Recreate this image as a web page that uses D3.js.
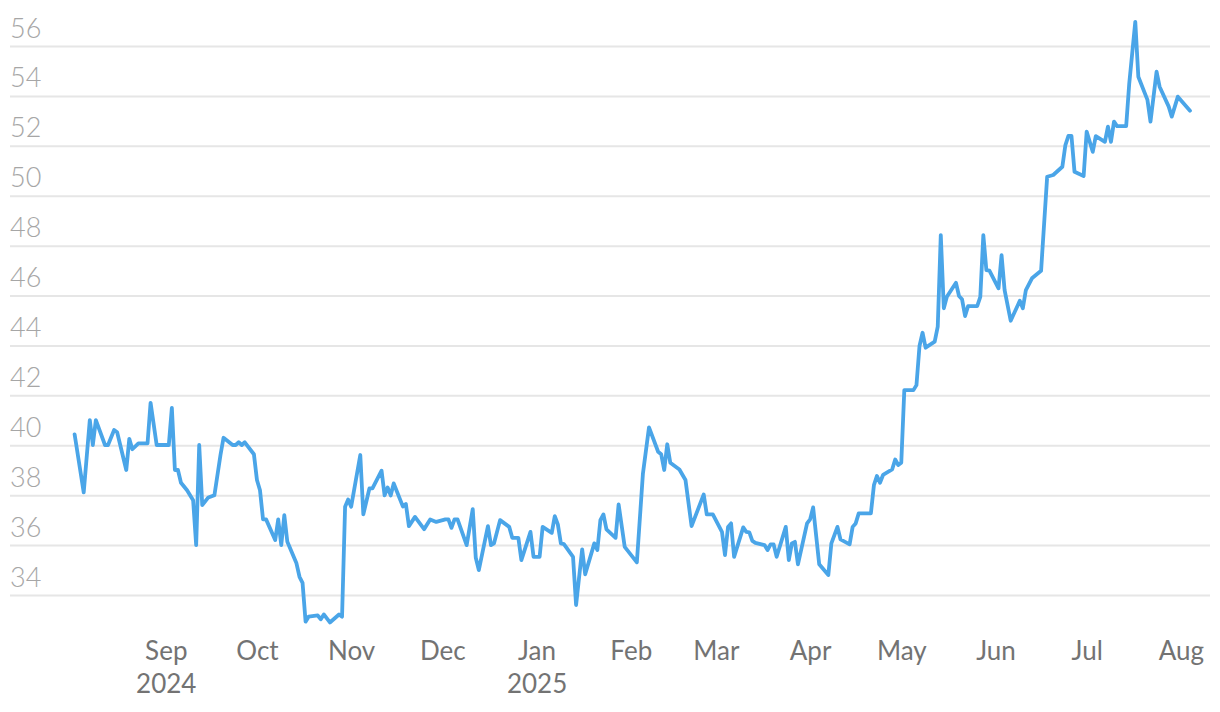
<!DOCTYPE html>
<html lang="en">
<head>
<meta charset="UTF-8">
<title>Price chart</title>
<script src="https://d3js.org/d3.v7.min.js"></script>
<style>
  body { margin: 0; background: #fff; }
  .grid line { stroke: #e6e6e6; stroke-width: 2px; }
  .grid text { fill: #a6a6a6; font-family: Lato, sans-serif; font-weight: 300; font-size: 27px; }
  .xaxis text { fill: #737373; font-family: Lato, sans-serif; font-weight: 400; font-size: 26px; }
</style>
</head>
<body>
<div id="chart"></div>
<script>
// data
var dates = [
  "2024-08-02","2024-08-05","2024-08-07","2024-08-08","2024-08-09","2024-08-12","2024-08-13","2024-08-15","2024-08-16","2024-08-19",
  "2024-08-20","2024-08-21","2024-08-23","2024-08-26","2024-08-27","2024-08-29","2024-09-02","2024-09-03","2024-09-04","2024-09-05",
  "2024-09-06","2024-09-08","2024-09-10","2024-09-11","2024-09-12","2024-09-13","2024-09-15","2024-09-17","2024-09-19","2024-09-20",
  "2024-09-23","2024-09-24","2024-09-25","2024-09-26","2024-09-27","2024-09-30","2024-10-01","2024-10-02","2024-10-03","2024-10-04",
  "2024-10-07","2024-10-08","2024-10-09","2024-10-10","2024-10-11","2024-10-14","2024-10-15","2024-10-16","2024-10-17","2024-10-18",
  "2024-10-21","2024-10-22","2024-10-23","2024-10-25","2024-10-28","2024-10-29","2024-10-30","2024-10-31","2024-11-01","2024-11-04",
  "2024-11-05","2024-11-07","2024-11-08","2024-11-11","2024-11-12","2024-11-13","2024-11-14","2024-11-15","2024-11-18","2024-11-19",
  "2024-11-20","2024-11-22","2024-11-25","2024-11-27","2024-11-29","2024-12-02","2024-12-03","2024-12-04","2024-12-05","2024-12-06",
  "2024-12-09","2024-12-11","2024-12-12","2024-12-13","2024-12-16","2024-12-17","2024-12-18","2024-12-20","2024-12-23","2024-12-24",
  "2024-12-26","2024-12-27","2024-12-30","2024-12-31","2025-01-02","2025-01-03","2025-01-06","2025-01-07","2025-01-08","2025-01-09",
  "2025-01-10","2025-01-13","2025-01-14","2025-01-16","2025-01-17","2025-01-20","2025-01-21","2025-01-22","2025-01-23","2025-01-24",
  "2025-01-27","2025-01-28","2025-01-30","2025-02-03","2025-02-05","2025-02-07","2025-02-10","2025-02-11","2025-02-12","2025-02-13",
  "2025-02-14","2025-02-17","2025-02-19","2025-02-21","2025-02-25","2025-02-26","2025-02-28","2025-03-03","2025-03-04","2025-03-05",
  "2025-03-06","2025-03-07","2025-03-10","2025-03-11","2025-03-12","2025-03-13","2025-03-14","2025-03-17","2025-03-18","2025-03-19",
  "2025-03-20","2025-03-21","2025-03-24","2025-03-25","2025-03-26","2025-03-27","2025-03-28","2025-03-31","2025-04-01","2025-04-02",
  "2025-04-04","2025-04-07","2025-04-08","2025-04-10","2025-04-11","2025-04-14","2025-04-15","2025-04-16","2025-04-17","2025-04-21",
  "2025-04-22","2025-04-23","2025-04-24","2025-04-25","2025-04-28","2025-04-29","2025-04-30","2025-05-01","2025-05-02","2025-05-05",
  "2025-05-06","2025-05-07","2025-05-08","2025-05-09","2025-05-12","2025-05-13","2025-05-14","2025-05-15","2025-05-16","2025-05-19",
  "2025-05-20","2025-05-21","2025-05-22","2025-05-23","2025-05-26","2025-05-27","2025-05-28","2025-05-29","2025-05-30","2025-06-02",
  "2025-06-03","2025-06-04","2025-06-06","2025-06-09","2025-06-10","2025-06-11","2025-06-13","2025-06-16","2025-06-18","2025-06-20",
  "2025-06-23","2025-06-24","2025-06-25","2025-06-26","2025-06-27","2025-06-30","2025-07-01","2025-07-03","2025-07-04","2025-07-07",
  "2025-07-08","2025-07-09","2025-07-10","2025-07-11","2025-07-14","2025-07-15","2025-07-17","2025-07-18","2025-07-21","2025-07-22",
  "2025-07-24","2025-07-25","2025-07-28","2025-07-29","2025-07-31","2025-08-04"
];
var prices = [
  40.44,38.11,41.01,40.01,41.01,40.01,40.01,40.61,40.52,39.01,
  40.26,39.84,40.08,40.08,41.70,40.01,40.01,41.50,39.01,39.01,
  38.50,38.20,37.80,36.00,40.01,37.60,37.91,38.00,39.61,40.30,
  40.01,40.01,40.12,40.01,40.12,39.64,38.61,38.20,37.03,37.03,
  36.20,37.03,36.00,37.20,36.13,35.27,34.73,34.49,32.93,33.13,
  33.18,33.03,33.22,32.90,33.22,33.13,37.54,37.83,37.54,39.61,
  37.23,38.27,38.27,38.98,37.99,38.31,37.99,38.47,37.55,37.65,
  36.76,37.13,36.64,37.03,36.93,37.03,37.03,36.69,37.03,37.03,
  36.00,37.44,35.49,35.00,36.76,36.00,36.07,37.00,36.73,36.29,
  36.29,35.40,36.53,35.53,35.53,36.73,36.49,37.16,36.83,36.07,
  36.04,35.53,33.60,35.83,34.83,36.07,35.80,37.00,37.23,36.63,
  36.29,37.63,35.93,35.31,38.87,40.72,39.74,39.64,39.01,40.04,
  39.30,39.03,38.61,36.76,38.03,37.23,37.23,36.53,35.60,36.73,
  36.87,35.53,36.71,36.53,36.51,36.17,36.09,36.00,35.80,36.03,
  36.03,35.53,36.73,35.40,36.07,36.13,35.23,36.87,37.03,37.51,
  35.23,34.80,36.07,36.73,36.23,36.03,36.73,36.87,37.27,37.27,
  38.40,38.77,38.50,38.81,39.03,39.43,39.21,39.30,42.21,42.21,
  42.41,43.98,44.51,43.91,44.15,44.75,48.42,45.49,45.95,46.51,
  45.98,45.85,45.18,45.58,45.58,45.95,48.42,47.02,47.00,46.29,
  47.62,46.22,44.99,45.79,45.49,46.22,46.69,46.99,50.76,50.83,
  51.16,52.03,52.40,52.40,50.96,50.79,52.57,51.76,52.39,52.16,
  52.77,52.16,52.97,52.79,52.79,54.48,56.97,54.77,53.84,52.97,
  54.97,54.37,53.57,53.17,53.97,53.41
];

// ticks and labels
var yTicks = [34, 36, 38, 40, 42, 44, 46, 48, 50, 52, 54, 56];
var monthTicks = ["2024-09-01","2024-10-01","2024-11-01","2024-12-01","2025-01-01","2025-02-01",
                  "2025-03-01","2025-04-01","2025-05-01","2025-06-01","2025-07-01","2025-08-01"];
var monthLabels = ["Sep","Oct","Nov","Dec","Jan","Feb","Mar","Apr","May","Jun","Jul","Aug"];
var yearLabels = ["2024","","","","2025","","","","","","",""];

var width = 1220, height = 712;
var parse = d3.timeParse("%Y-%m-%d");

var data = dates.map(function(d, i) { return { date: parse(d), value: prices[i] }; });

var svg = d3.select("#chart").append("svg")
    .attr("width", width)
    .attr("height", height);

var x = d3.scaleTime()
    .domain(d3.extent(data, function(d) { return d.date; }))
    .range([74.6, 1190]);

var y = d3.scaleLinear()
    .domain([34, 56])
    .range([595, 46]);

// horizontal grid with the labels sitting above each line
var grid = svg.append("g")
    .attr("class", "grid")
    .attr("transform", "translate(10,0)")
    .call(d3.axisRight(y).tickValues(yTicks).tickSize(1200).tickFormat(d3.format("d")));
grid.select(".domain").remove();
grid.selectAll("text")
    .attr("x", 0)
    .attr("dy", -9)
    .attr("text-anchor", "start");

// month axis, no line, year under Sep and Jan
var xa = svg.append("g")
    .attr("class", "xaxis")
    .attr("transform", "translate(0,660)")
    .call(d3.axisBottom(x)
        .tickValues(monthTicks.map(parse))
        .tickSize(0)
        .tickFormat(function(d, i) { return monthLabels[i]; }));
xa.select(".domain").remove();
xa.selectAll("text").attr("y", 0).attr("dy", 0);
xa.selectAll(".tick").each(function(d, i) {
    if (yearLabels[i]) {
        d3.select(this).append("text")
            .attr("y", 33)
            .attr("text-anchor", "middle")
            .attr("fill", "#737373")
            .text(yearLabels[i]);
    }
});

var line = d3.line()
    .x(function(d) { return x(d.date); })
    .y(function(d) { return y(d.value); });

svg.append("path")
    .datum(data)
    .attr("fill", "none")
    .attr("stroke", "#4aa5e8")
    .attr("stroke-width", 3.8)
    .attr("stroke-linejoin", "round")
    .attr("stroke-linecap", "round")
    .attr("d", line);
</script>
</body>
</html>
